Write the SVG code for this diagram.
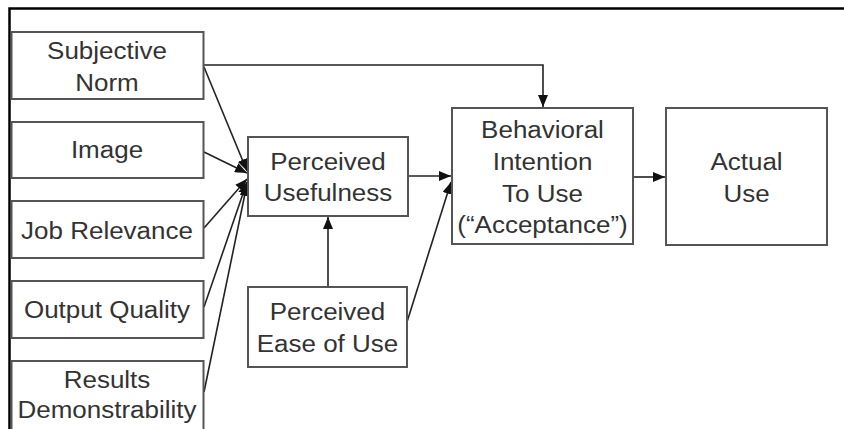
<svg xmlns="http://www.w3.org/2000/svg" width="844" height="429" viewBox="0 0 844 429">
  <style>
    .box { fill: #ffffff; stroke: #555555; stroke-width: 2; }
    .lbl { font-family: "Liberation Sans", Arial, sans-serif; font-size: 23px; fill: #333333; text-anchor: middle; }
    .edge { fill: none; stroke: #222222; stroke-width: 1.6; }
    .frame { fill: none; stroke: #000000; stroke-width: 2.5; }
  </style>
  <defs>
    <marker id="arrow" markerUnits="userSpaceOnUse" markerWidth="12" markerHeight="10" viewBox="0 0 12 10" refX="12" refY="5" orient="auto">
      <path d="M0,0 L12,5 L0,10 Z" fill="#111111"/>
    </marker>
  </defs>

  <rect width="844" height="429" fill="#ffffff"/>
  <!-- outer frame: top and left edges -->
  <path class="frame" d="M9.5,429 V8.5 H844"/>

  <!-- connectors -->
  <g id="connectors">
    <path class="edge" d="M203,65 H543 V107" marker-end="url(#arrow)"/>
    <line class="edge" x1="204" y1="67" x2="247" y2="171" marker-end="url(#arrow)"/>
    <line class="edge" x1="204" y1="152" x2="247" y2="173" marker-end="url(#arrow)"/>
    <line class="edge" x1="204" y1="228" x2="247" y2="179" marker-end="url(#arrow)"/>
    <line class="edge" x1="204" y1="307" x2="247" y2="182" marker-end="url(#arrow)"/>
    <line class="edge" x1="204" y1="392" x2="247" y2="184" marker-end="url(#arrow)"/>
    <line class="edge" x1="408" y1="176" x2="451" y2="176" marker-end="url(#arrow)"/>
    <line class="edge" x1="407" y1="322" x2="451" y2="182" marker-end="url(#arrow)"/>
    <line class="edge" x1="328" y1="287" x2="328" y2="217" marker-end="url(#arrow)"/>
    <line class="edge" x1="633" y1="177" x2="665" y2="177" marker-end="url(#arrow)"/>
  </g>

  <g id="subjective-norm">
    <rect class="box" x="11.5" y="32" width="192" height="67"/>
    <text class="lbl" transform="translate(107 0) scale(1.13 1)"><tspan x="0" y="59">Subjective</tspan><tspan x="0" y="91">Norm</tspan></text>
  </g>
  <g id="image">
    <rect class="box" x="11.5" y="122" width="192" height="56"/>
    <text class="lbl" transform="translate(107 0) scale(1.13 1)" x="0" y="158">Image</text>
  </g>
  <g id="job-relevance">
    <rect class="box" x="11.5" y="201" width="192" height="57"/>
    <text class="lbl" transform="translate(107 0) scale(1.13 1)" x="0" y="239">Job Relevance</text>
  </g>
  <g id="output-quality">
    <rect class="box" x="11.5" y="281" width="192" height="57"/>
    <text class="lbl" transform="translate(107 0) scale(1.13 1)" x="0" y="318">Output Quality</text>
  </g>
  <g id="results-demonstrability">
    <rect class="box" x="11.5" y="361" width="192" height="70"/>
    <text class="lbl" transform="translate(107 0) scale(1.13 1)"><tspan x="0" y="388">Results</tspan><tspan x="0" y="418">Demonstrability</tspan></text>
  </g>
  <g id="perceived-usefulness">
    <rect class="box" x="248" y="137" width="160" height="79"/>
    <text class="lbl" transform="translate(328 0) scale(1.13 1)"><tspan x="0" y="170">Perceived</tspan><tspan x="0" y="201">Usefulness</tspan></text>
  </g>
  <g id="perceived-ease-of-use">
    <rect class="box" x="248" y="287" width="159" height="80"/>
    <text class="lbl" transform="translate(327.5 0) scale(1.13 1)"><tspan x="0" y="320">Perceived</tspan><tspan x="0" y="352">Ease of Use</tspan></text>
  </g>
  <g id="behavioral-intention">
    <rect class="box" x="452" y="108" width="181" height="136"/>
    <text class="lbl" transform="translate(542.5 0) scale(1.13 1)"><tspan x="0" y="138">Behavioral</tspan><tspan x="0" y="170">Intention</tspan><tspan x="0" y="202">To Use</tspan><tspan x="0" y="233">(“Acceptance”)</tspan></text>
  </g>
  <g id="actual-use">
    <rect class="box" x="666" y="108" width="161" height="137"/>
    <text class="lbl" transform="translate(746.5 0) scale(1.13 1)"><tspan x="0" y="170">Actual</tspan><tspan x="0" y="202">Use</tspan></text>
  </g>
</svg>
